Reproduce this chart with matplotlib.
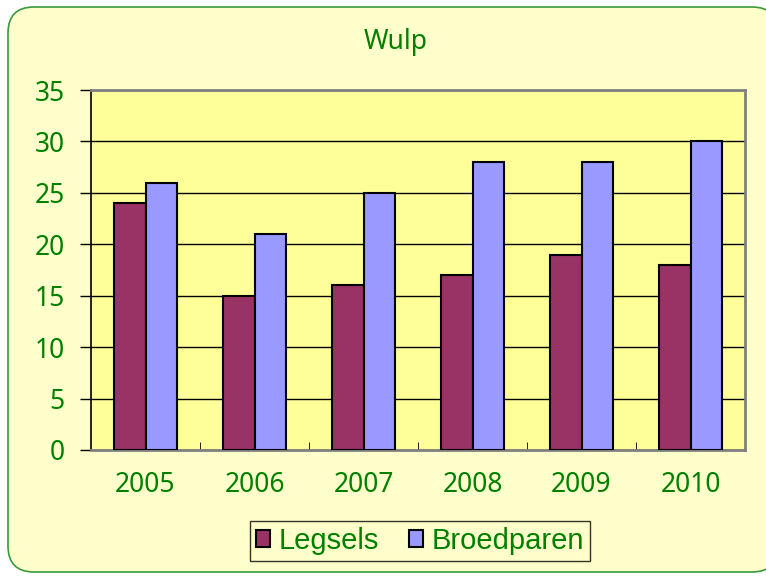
import numpy as np
import matplotlib.pyplot as plt
from matplotlib.patches import FancyBboxPatch

years = ['2005', '2006', '2007', '2008', '2009', '2010']
legsels = [24, 15, 16, 17, 19, 18]
broedparen = [26, 21, 25, 28, 28, 30]

green = '#008000'

fig = plt.figure(figsize=(7.66, 5.76), dpi=100)
fig.patch.set_facecolor('white')

# rounded chart area border
border = FancyBboxPatch((8 / 766, 4 / 576), 770 / 766, 565 / 576,
                        boxstyle='round,pad=0,rounding_size=0.034',
                        transform=fig.transFigure, facecolor='#FFFFCC',
                        edgecolor='#3a9a3a', linewidth=1.2, zorder=-5,
                        mutation_aspect=766 / 576)
fig.patches.append(border)

ax = fig.add_axes([91 / 766, 1 - 450 / 576, 654 / 766, 360 / 576])
ax.set_zorder(2)
ax.set_facecolor('#FFFF99')

x = np.arange(len(years))
w = 0.29
ax.bar(x - w / 2, legsels, w, color='#993366', edgecolor='black', linewidth=1.5,
       label='Legsels', zorder=3)
ax.bar(x + w / 2, broedparen, w, color='#9999FF', edgecolor='black', linewidth=1.5,
       label='Broedparen', zorder=3)

ax.set_xlim(-0.5, len(years) - 0.5)
ax.set_ylim(0, 35)
ax.set_yticks(range(0, 36, 5))
ax.yaxis.grid(True, color='black', linewidth=1)
ax.set_axisbelow(True)

ax.set_xticks(x)
ax.set_xticklabels(years)
ax.set_xticks(np.arange(0.5, len(years) - 0.5), minor=True)
ax.tick_params(axis='x', which='major', length=0, pad=15, labelcolor=green)
ax.tick_params(axis='x', which='minor', direction='in', length=6, color='black')
ax.tick_params(axis='y', length=8, width=1, labelcolor=green, pad=11)
for lab in ax.get_xticklabels() + ax.get_yticklabels():
    lab.set_fontfamily('Noto Sans')
    lab.set_fontsize(19)

for side in ['top', 'right']:
    ax.spines[side].set_color('#808080')
    ax.spines[side].set_linewidth(2)
ax.spines['left'].set_color('black')
ax.spines['bottom'].set_color('#808080')
ax.spines['left'].set_linewidth(1.2)
ax.spines['bottom'].set_linewidth(2)

fig.text(396 / 766, 1 - 42 / 576, 'Wulp', ha='center', va='center',
         fontsize=19, color=green, family='Noto Sans')

leg = fig.legend(loc='center', bbox_to_anchor=(420 / 766, 1 - 541 / 576),
                 ncol=2, frameon=True, fancybox=False, handlelength=0.5,
                 handleheight=0.5, handletextpad=0.3, columnspacing=1.0,
                 borderpad=0.2,
                 prop={'family': 'Liberation Sans', 'size': 21})
leg.get_frame().set_edgecolor('black')
leg.get_frame().set_facecolor('#FFFFCC')
leg.get_frame().set_linewidth(1)
for t in leg.get_texts():
    t.set_color(green)

fig.savefig('out.png', dpi=100, facecolor=fig.get_facecolor())
